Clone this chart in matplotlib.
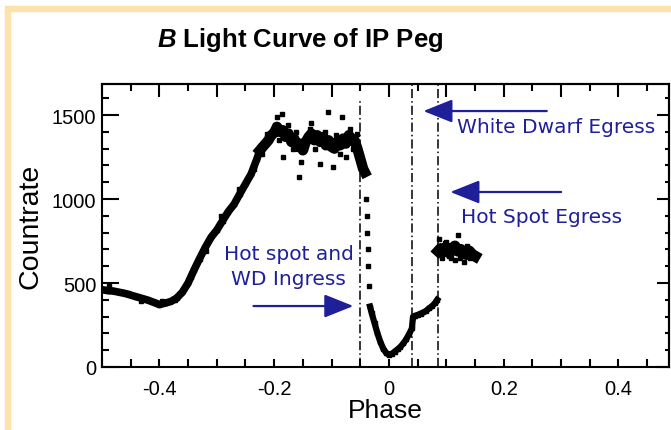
import matplotlib
matplotlib.use("Agg")
import matplotlib.pyplot as plt
from matplotlib.ticker import MultipleLocator, FuncFormatter
from matplotlib.patches import Rectangle

plt.rcParams['font.family'] = ['Liberation Sans', 'DejaVu Sans']
plt.rcParams['mathtext.fontset'] = 'custom'
plt.rcParams['mathtext.bfit'] = 'Liberation Sans:bold:italic'

# light curve (phase, countrate)
phase = [-0.500, -0.490, -0.480, -0.470, -0.460, -0.450, -0.440, -0.430, -0.420, -0.410,
         -0.400, -0.390, -0.380, -0.370, -0.360, -0.350, -0.340, -0.330, -0.320, -0.310,
         -0.300, -0.290, -0.280, -0.270, -0.260, -0.250, -0.240, -0.230, -0.225, -0.220,
         -0.215, -0.210, -0.205, -0.200, -0.195, -0.190, -0.185, -0.180, -0.175, -0.170,
         -0.165, -0.160, -0.155, -0.150, -0.145, -0.140, -0.135, -0.130, -0.125, -0.120,
         -0.115, -0.110, -0.105, -0.100, -0.095, -0.090, -0.085, -0.080, -0.075, -0.070,
         -0.065, -0.060, -0.055, -0.050, -0.045, -0.042,
         -0.033, -0.030, -0.025, -0.020, -0.015, -0.010, -0.005, 0.000, 0.005, 0.010,
         0.015, 0.020, 0.025, 0.030, 0.035, 0.040, 0.042, 0.045, 0.050, 0.055,
         0.060, 0.065, 0.070, 0.075, 0.080, 0.084,
         0.086, 0.090, 0.095, 0.100, 0.105, 0.110, 0.115, 0.120, 0.125, 0.130,
         0.135, 0.140, 0.145, 0.150]
count = [460, 455, 452, 445, 438, 428, 418, 408, 398, 385,
         372, 380, 390, 410, 445, 500, 575, 645, 712, 772,
         815, 870, 925, 968, 1030, 1090, 1150, 1240, 1290, 1310,
         1330, 1350, 1380, 1395, 1430, 1400, 1410, 1370, 1390, 1340,
         1360, 1310, 1330, 1290, 1340, 1370, 1390, 1350, 1380, 1340,
         1370, 1320, 1350, 1310, 1300, 1340, 1320, 1360, 1330, 1380,
         1360, 1350, 1300, 1240, 1180, 1160,
         360, 320, 260, 200, 150, 110, 85, 72, 78, 92,
         105, 120, 140, 165, 195, 230, 300, 305, 310, 318,
         325, 335, 350, 362, 380, 400,
         690, 705, 690, 712, 680, 700, 720, 690, 700, 680,
         670, 690, 670, 660]

# scattered points around the curve
scat_phase = [-0.488, -0.455, -0.432, -0.395, -0.372, -0.345, -0.318, -0.292, -0.262,
              -0.236, -0.222, -0.212, -0.198,
              -0.195, -0.192, -0.186, -0.184, -0.176, -0.168, -0.162, -0.156, -0.153,
              -0.146, -0.138, -0.135, -0.128, -0.120, -0.112, -0.106, -0.097, -0.092,
              -0.086, -0.082, -0.075, -0.068, -0.062, -0.056,
              -0.040, -0.039, -0.038, -0.037, -0.036, -0.035,
              0.088, 0.092, 0.097, 0.100, 0.104, 0.108, 0.112, 0.115, 0.120, 0.124,
              0.130, 0.136, 0.142]
scat_count = [485, 440, 395, 395, 400, 535, 690, 900, 1060,
              1180, 1270, 1390, 1440,
              1490, 1350, 1506, 1250, 1440, 1300, 1400, 1130, 1220,
              1300, 1420, 1450, 1300, 1210, 1400, 1518, 1190, 1380,
              1270, 1490, 1250, 1420, 1300, 1390,
              1000, 900, 800, 700, 600, 480,
              760, 650, 740, 745, 660, 650, 730, 640, 785, 650,
              625, 720, 650]

# eclipse markers
lines_x = [-0.05, 0.04, 0.085]
lines_top = [0.947, 1.0, 1.0]

blue = '#1f1f99'

fig = plt.figure(figsize=(6.71, 4.31), dpi=100)
fig.patches.append(Rectangle((5 / 671, 0), 5 / 671, 1 - 7 / 431, transform=fig.transFigure,
                             color='#fde3ab', zorder=0))
fig.patches.append(Rectangle((5 / 671, 1 - 12 / 431), 1, 5 / 431, transform=fig.transFigure,
                             color='#fde3ab', zorder=0))

ax = fig.add_axes([102 / 671, 1 - 368 / 431, 567 / 671, 283 / 431])
ax.plot(phase[:29], count[:29], color='black', lw=5.5)
ax.plot(phase[28:66], count[28:66], color='black', lw=7.5)
ax.plot(phase[66:92], count[66:92], color='black', lw=4.5)
ax.plot(phase[92:], count[92:], color='black', lw=8)
ax.plot(phase, count, 's', color='black', ms=3)
ax.plot(scat_phase, scat_count, 's', color='black', ms=2.2)

for x, top in zip(lines_x, lines_top):
    ax.axvline(x, ymax=top, color='black', lw=1.1, ls=(0, (6, 2, 1, 2)))

ax.set_xlim(-0.5, 0.488)
ax.set_ylim(0, 1685)

ax.xaxis.set_major_locator(MultipleLocator(0.1))
ax.xaxis.set_minor_locator(MultipleLocator(0.05))
ax.xaxis.set_major_formatter(FuncFormatter(
    lambda v, p: ('%g' % round(v, 2)) if abs(round(v * 10)) % 2 == 0 else ''))
ax.yaxis.set_major_locator(MultipleLocator(500))
ax.yaxis.set_minor_locator(MultipleLocator(100))

ax.tick_params(axis='x', which='both', direction='in', length=6, width=1.5,
               labelsize=14.5, pad=9)
ax.tick_params(axis='y', which='major', direction='in', length=12, width=1.5,
               labelsize=14.5, pad=4)
ax.tick_params(axis='y', which='minor', direction='in', length=5, width=1.5)

top = ax.secondary_xaxis('top')
top.xaxis.set_major_locator(MultipleLocator(0.1))
top.xaxis.set_minor_locator(MultipleLocator(0.05))
top.tick_params(which='major', direction='in', length=9, width=1.5, labeltop=False)
top.tick_params(which='minor', direction='in', length=5, width=1.5)
right = ax.secondary_yaxis('right')
right.yaxis.set_major_locator(MultipleLocator(500))
right.yaxis.set_minor_locator(MultipleLocator(100))
right.tick_params(which='major', direction='in', length=9, width=1.5, labelright=False)
right.tick_params(which='minor', direction='in', length=3, width=1.5)
for a in (ax, top, right):
    for s in a.spines.values():
        s.set_linewidth(1.5)

ax.set_xlabel('Phase', fontsize=19, labelpad=0)
ax.set_ylabel('Countrate', fontsize=20.5, labelpad=6)

fig.text(300 / 671, 1 - 40 / 431, r'$\mathbfit{B}$ Light Curve of IP Peg', fontsize=18.5,
         fontweight='bold', ha='center', va='center')

arrow = dict(arrowstyle='-|>,head_length=1.0,head_width=0.4', color=blue, lw=1.6,
             mutation_scale=18, shrinkA=0, shrinkB=0)
ax.annotate('', xy=(0.060, 1524), xytext=(0.275, 1524), arrowprops=arrow)
ax.annotate('', xy=(0.107, 1042), xytext=(0.300, 1042), arrowprops=arrow)
ax.annotate('', xy=(-0.062, 363), xytext=(-0.236, 363), arrowprops=arrow)

tfont = dict(family='DejaVu Sans', fontsize=14.5, color=blue)
ax.text(0.119, 1429, 'White Dwarf Egress', ha='left', va='center', **tfont)
ax.text(0.126, 899, 'Hot Spot Egress', ha='left', va='center', **tfont)
ax.text(-0.175, 601, 'Hot spot and\nWD Ingress', ha='center', va='center',
        linespacing=1.4, **tfont)

fig.savefig('out.png', dpi=100)
